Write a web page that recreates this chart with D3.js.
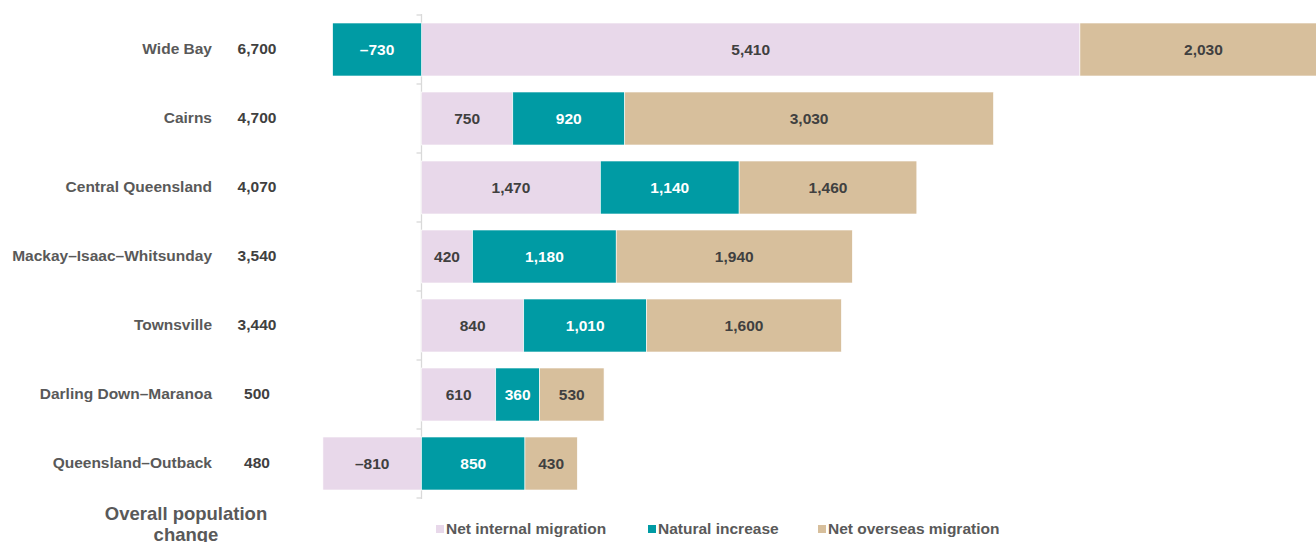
<!DOCTYPE html>
<html>
<head>
<meta charset="utf-8">
<script src="https://cdn.jsdelivr.net/npm/d3@7"></script>
<style>
  body { margin: 0; background: #fff; }
  text { font-family: Arial, "Liberation Sans", sans-serif; font-weight: bold; }
</style>
</head>
<body>
<div id="my_dataviz"></div>
<script>
// Chart data
var regions = ["Wide Bay", "Cairns", "Central Queensland", "Mackay\u2013Isaac\u2013Whitsunday",
    "Townsville", "Darling Down\u2013Maranoa", "Queensland\u2013Outback"];
var totals = [6700, 4700, 4070, 3540, 3440, 500, 480];
var internalMigration = [5410, 750, 1470, 420, 840, 610, -810];
var naturalIncrease = [-730, 920, 1140, 1180, 1010, 360, 850];
var overseasMigration = [2030, 3030, 1460, 1940, 1600, 530, 430];
var seriesNames = ["Net internal migration", "Natural increase", "Net overseas migration"];
var seriesKeys = ["internal", "natural", "overseas"];
var seriesColors = ["#e8d8ea", "#009ba4", "#d7bf9c"];
var labelColors = ["#404040", "#ffffff", "#404040"];

var width = 1316, height = 542;
var svg = d3.select("#my_dataviz")
    .append("svg")
    .attr("width", width)
    .attr("height", height);

var rows = regions.map(function (r, i) {
    return {
        region: r,
        total: totals[i],
        internal: internalMigration[i],
        natural: naturalIncrease[i],
        overseas: overseasMigration[i]
    };
});

// Scales: zero sits at ~421px, ~0.1217px per person
var x = d3.scaleLinear()
    .domain([-3000, 7000])
    .range([56.4, 1273.4]);
var y = d3.scaleBand()
    .domain(regions)
    .range([15, 498])
    .paddingInner(0.232)
    .paddingOuter(0.116);

var stack = d3.stack()
    .keys(seriesKeys)
    .offset(d3.stackOffsetDiverging);
var stacked = stack(rows);

// axis at zero with small ticks between bands
var bounds = regions.map(function (r) { return y(r) - y.step() * y.paddingInner() / 2; });
bounds.push(498);
svg.append("line")
    .attr("x1", x(0)).attr("x2", x(0))
    .attr("y1", 14).attr("y2", 499)
    .style("stroke", "#d9d9d9")
    .style("stroke-width", 1.3);
svg.selectAll(".tick")
    .data(bounds)
    .join("line")
    .attr("class", "tick")
    .attr("x1", x(0) - 5).attr("x2", x(0))
    .attr("y1", function (d) { return d; })
    .attr("y2", function (d) { return d; })
    .style("stroke", "#d9d9d9")
    .style("stroke-width", 1.3);

// bars
var fmt = d3.format(",");
function label(v) { return (v < 0 ? "\u2013" : "") + fmt(Math.abs(v)); }

stacked.forEach(function (layer, k) {
    var g = svg.append("g");
    g.selectAll("rect")
        .data(layer)
        .join("rect")
        .attr("x", function (d) { return x(d[0]); })
        .attr("width", function (d) { return x(d[1]) - x(d[0]); })
        .attr("y", function (d) { return y(d.data.region); })
        .attr("height", y.bandwidth())
        .style("fill", seriesColors[k])
        .style("stroke", "#ffffff")
        .style("stroke-width", 0.6);
    g.selectAll("text")
        .data(layer)
        .join("text")
        .attr("x", function (d) { return (x(d[0]) + x(d[1])) / 2; })
        .attr("y", function (d) { return y(d.data.region) + y.bandwidth() / 2; })
        .attr("dy", "0.36em")
        .style("text-anchor", "middle")
        .style("font-size", "15.5px")
        .style("fill", labelColors[k])
        .text(function (d) { return label(d.data[layer.key]); });
});

// region names and totals
svg.selectAll(".region")
    .data(rows)
    .join("text")
    .attr("class", "region")
    .attr("x", 212)
    .attr("y", function (d) { return y(d.region) + y.bandwidth() / 2 - 1; })
    .attr("dy", "0.36em")
    .style("text-anchor", "end")
    .style("font-size", "15.5px")
    .style("fill", "#595959")
    .text(function (d) { return d.region; });
svg.selectAll(".total")
    .data(rows)
    .join("text")
    .attr("class", "total")
    .attr("x", 257)
    .attr("y", function (d) { return y(d.region) + y.bandwidth() / 2 - 1; })
    .attr("dy", "0.36em")
    .style("text-anchor", "middle")
    .style("font-size", "15.5px")
    .style("fill", "#404040")
    .text(function (d) { return fmt(d.total); });

// bottom caption (second line runs off the bottom, as in the source)
var cap = svg.append("text")
    .attr("x", 186)
    .attr("y", 520)
    .style("text-anchor", "middle")
    .style("font-size", "18.5px")
    .style("fill", "#595959");
cap.append("tspan").attr("x", 186).text("Overall population");
cap.append("tspan").attr("x", 186).attr("dy", 21).text("change");

// legend
var legendX = [436, 648, 818];
var legend = svg.selectAll(".legend")
    .data(seriesNames)
    .join("g")
    .attr("class", "legend")
    .attr("transform", function (d, i) { return "translate(" + legendX[i] + ",528)"; });
legend.append("rect")
    .attr("x", 0).attr("y", -3)
    .attr("width", 8).attr("height", 8)
    .style("fill", function (d, i) { return seriesColors[i]; });
legend.append("text")
    .attr("x", 10)
    .attr("y", 0)
    .attr("dy", "0.36em")
    .style("font-size", "15.5px")
    .style("fill", "#595959")
    .text(function (d) { return d; });
</script>
</body>
</html>
